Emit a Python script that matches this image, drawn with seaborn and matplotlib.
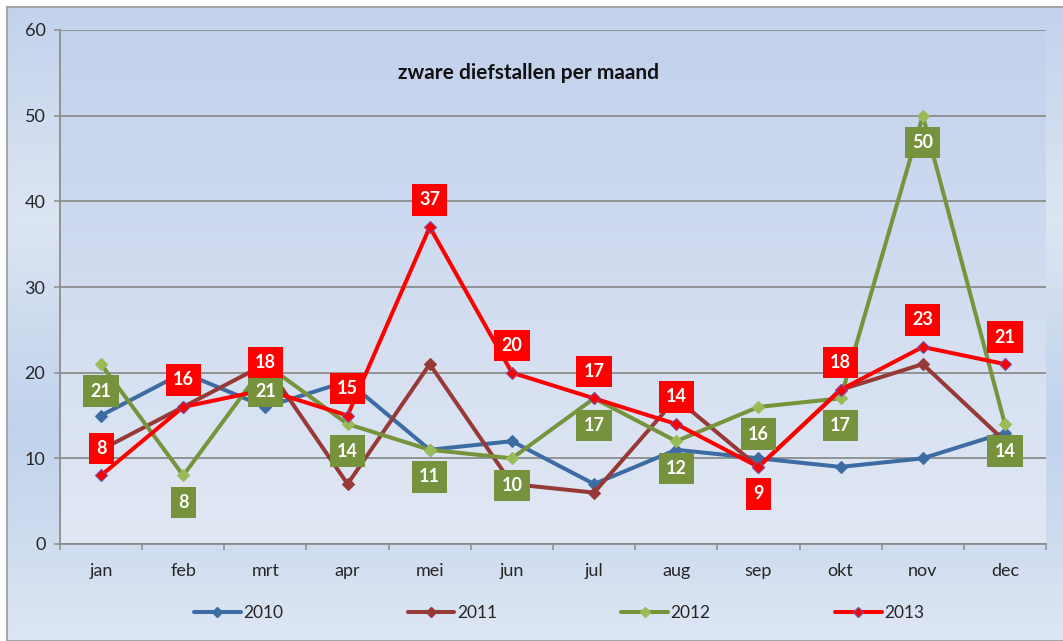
import numpy as np
import pandas as pd
import matplotlib
matplotlib.use("Agg")
import matplotlib.pyplot as plt
from matplotlib.colors import LinearSegmentedColormap
from matplotlib.lines import Line2D
from matplotlib.patches import Rectangle
import seaborn as sns

months = ["jan", "feb", "mrt", "apr", "mei", "jun", "jul", "aug", "sep", "okt", "nov", "dec"]
v2010 = [15, 20, 16, 19, 11, 12, 7, 11, 10, 9, 10, 13]
v2011 = [11, 16, 21, 7, 21, 7, 6, 17, 9, 18, 21, 12]
v2012 = [21, 8, 21, 14, 11, 10, 17, 12, 16, 17, 50, 14]
v2013 = [8, 16, 18, 15, 37, 20, 17, 14, 9, 18, 23, 21]
years = ["2010", "2011", "2012", "2013"]
title = "zware diefstallen per maand"

series = {"2010": v2010, "2011": v2011, "2012": v2012, "2013": v2013}
df = pd.concat([pd.DataFrame({"maand": months, "waarde": v, "jaar": y}) for y, v in series.items()],
               ignore_index=True)

sns.set_theme(style="white")
plt.rcParams["font.family"] = ["Lato", "DejaVu Sans"]

line_colors = {"2010": "#3d6ca3", "2011": "#973a37", "2012": "#77933c", "2013": "#ff0000"}
marker_colors = {"2010": "#3d6ca3", "2011": "#973a37", "2012": "#9bbb59", "2013": "#ff0000"}
marker_edges = {"2010": "#3d6ca3", "2011": "#973a37", "2012": "#9bbb59", "2013": "#7a4fa0"}

W, H = 1063, 641
fig = plt.figure(figsize=(W / 100, H / 100), dpi=100)
fig.patch.set_facecolor("white")

# outer chart background with gradient and border
bg = fig.add_axes([7 / W, 0, 1 - 7 / W, 1 - 7 / H], zorder=-10)
grad = np.linspace(0, 1, 256).reshape(-1, 1)
cm_bg = LinearSegmentedColormap.from_list("bg", ["#c3d2ec", "#dce5f2", "#c0d2ec", "#dde6f3"])
bg.imshow(grad, aspect="auto", cmap=cm_bg, extent=[0, 1, 0, 1], origin="upper")
bg.set_xlim(0, 1); bg.set_ylim(0, 1)
bg.axis("off")
bg.add_patch(Rectangle((0, 0), 1.2, 1, transform=bg.transAxes, fill=False,
                       edgecolor="#a6a6a6", linewidth=1.5, clip_on=False))

ax = fig.add_axes([60 / W, 1 - 544 / H, (1046 - 60) / W, (544 - 30) / H])
cm_pl = LinearSegmentedColormap.from_list("pl", ["#c2d1ec", "#e1e8f4"])
ax.imshow(grad, aspect="auto", cmap=cm_pl, extent=[-0.5, 11.5, 0, 60], origin="upper", zorder=0)

sns.lineplot(data=df, x="maand", y="waarde", hue="jaar", palette=line_colors, sort=False,
             marker="D", markersize=6, linewidth=2.9, ax=ax, legend=False, zorder=3)

for line, y in zip(ax.get_lines(), years):
    line.set_markerfacecolor(marker_colors[y])
    line.set_markeredgecolor(marker_edges[y])
    line.set_markeredgewidth(0.8)

ax.set_xlim(-0.5, 11.5)
ax.set_ylim(0, 60)
ax.set_yticks(range(0, 61, 10))
ax.set_xticks(range(12))
ax.set_xticklabels(months)
ax.set_xticks(np.arange(-0.5, 12, 1), minor=True)
ax.set_xlabel("")
ax.set_ylabel("")
ax.grid(axis="y", color="#8c8c8c", linewidth=1.3, zorder=1)
ax.set_axisbelow(True)
for s in ["top", "right"]:
    ax.spines[s].set_visible(False)
for s in ["left", "bottom"]:
    ax.spines[s].set_color("#8c8c8c")
    ax.spines[s].set_linewidth(1.3)
ax.tick_params(axis="y", which="major", left=True, length=4.5, width=1.1, color="#8c8c8c",
               pad=6, labelsize=13, labelcolor="#262626")
ax.tick_params(axis="x", which="major", bottom=False, length=0, pad=14, labelsize=13,
               labelcolor="#262626")
ax.tick_params(axis="x", which="minor", bottom=True, length=4.5, width=1.1, color="#8c8c8c")

ax.text(5.2, 55.0, title, ha="center", va="center", fontsize=15, fontweight="bold", color="#111111")

# data labels
box_colors = {"2012": "#76923c", "2013": "#ff0000"}
side_2012 = [-1] * 12
side_2013 = [1, 1, 1, 1, 1, 1, 1, 1, -1, 1, 1, 1]
for y, sides in [("2012", side_2012), ("2013", side_2013)]:
    for i, (m, v) in enumerate(zip(months, series[y])):
        ax.annotate(str(v), xy=(i, v), xytext=(0, 19.5 * sides[i]), textcoords="offset points",
                    ha="center", va="center", color="white", fontsize=13, fontweight="bold",
                    zorder=6,
                    bbox=dict(boxstyle="square,pad=0.4", facecolor=box_colors[y], edgecolor="none"))

handles = [Line2D([], [], color=line_colors[y], marker="D", markersize=5,
                  markerfacecolor=marker_colors[y], markeredgecolor=marker_edges[y],
                  linewidth=2.9) for y in years]
fig.legend(handles, years, loc="center", bbox_to_anchor=(0.526, 1 - 613 / H), ncol=4,
           frameon=False, fontsize=12.5, handlelength=2.7, handletextpad=0.15,
           columnspacing=7.15, labelcolor="#262626")

fig.savefig("out.png", dpi=100)
